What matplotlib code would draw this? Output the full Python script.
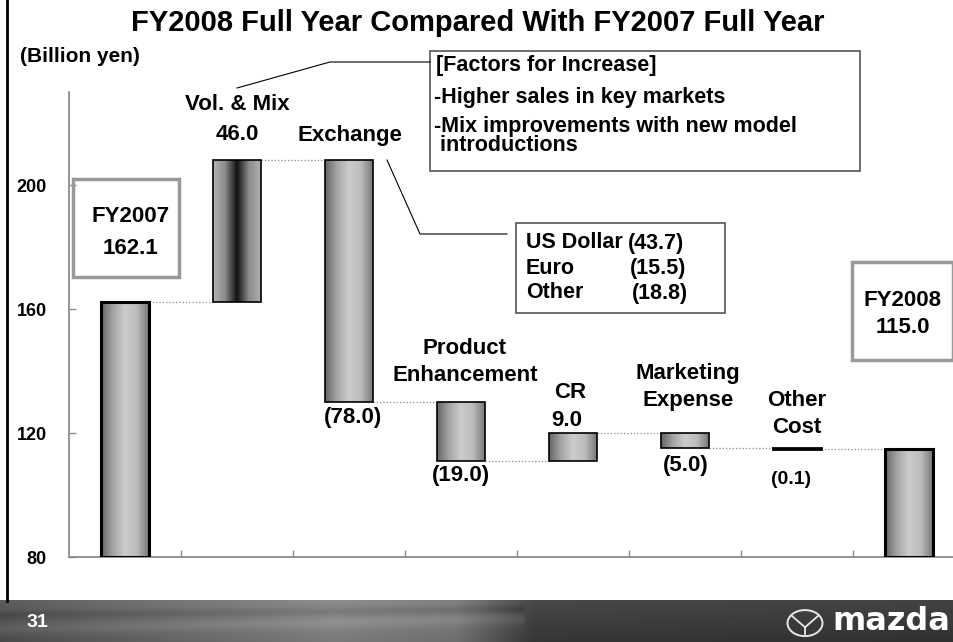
import numpy as np
import matplotlib
matplotlib.use("Agg")
import matplotlib.pyplot as plt
from matplotlib.colors import LinearSegmentedColormap
from matplotlib.patches import Rectangle, Ellipse
from matplotlib.lines import Line2D

plt.rcParams["font.family"] = ["Liberation Sans", "DejaVu Sans"]
plt.rcParams["font.weight"] = "bold"

# --- data (billion yen) ---
categories = ["FY2007", "Vol. & Mix", "Exchange", "Product\nEnhancement", "CR",
              "Marketing\nExpense", "Other\nCost", "FY2008"]
changes = [162.1, 46.0, -78.0, -19.0, 9.0, -5.0, -0.1, 115.0]
is_total = [True, False, False, False, False, False, False, True]
y_ticks = [80, 120, 160, 200]
fx_names = ["US Dollar", "Euro", "Other"]
fx_values = [-43.7, -15.5, -18.8]
factors = ["[Factors for Increase]", "-Higher sales in key markets",
           "-Mix improvements with new model\n introductions"]

W, H = 954, 642
fig = plt.figure(figsize=(W / 100, H / 100), dpi=100)


def fpos(x, y):
    """pixel position (top-left origin) -> figure fraction"""
    return x / W, 1 - y / H


def ftext(x, y, s, **kw):
    kw.setdefault("ha", "center")
    kw.setdefault("va", "center")
    kw.setdefault("fontsize", 16)
    kw.setdefault("fontweight", "bold")
    fig.text(*fpos(x, y), s, **kw)


def fbox(x0, y0, x1, y1, ec, lw):
    fig.patches.append(Rectangle(fpos(x0, y1), (x1 - x0) / W, (y1 - y0) / H,
                                 transform=fig.transFigure, fill=False, ec=ec, lw=lw))


def fline(xs, ys, **kw):
    fx = [x / W for x in xs]
    fy = [1 - y / H for y in ys]
    fig.lines.append(Line2D(fx, fy, transform=fig.transFigure, **kw))


# main axes (right edge runs past the slide edge like the original)
ax = fig.add_axes([69 / W, 85 / H, 896 / W, 465 / H])
floor = y_ticks[0]

grad_norm = LinearSegmentedColormap.from_list(
    "g1", ["#666666", "#a4a4a4", "#cccccc", "#bcbcbc", "#777777"])
grad_dark = LinearSegmentedColormap.from_list(
    "g2", ["#b4b4b4", "#8c8c8c", "#101010", "#8c8c8c", "#b0b0b0"])
ramp = np.linspace(0, 1, 256).reshape(1, -1)

x = np.arange(len(categories))
bw = 0.42
level = 0.0
for i, (c, tot) in enumerate(zip(changes, is_total)):
    if tot:
        lo, hi = floor, c
        level = c
    else:
        lo, hi = sorted([level, level + c])
        level = level + c
    lw = 2.2 if tot else 1.2
    if abs(hi - lo) < 0.5:
        lw = 2.0
    bar = ax.bar(x[i], hi - lo, bottom=lo, width=bw, facecolor="none",
                 edgecolor="black", linewidth=lw, zorder=3)[0]
    cmap = grad_dark if i == 1 else grad_norm
    im = ax.imshow(ramp, cmap=cmap, aspect="auto", zorder=2,
                   extent=(x[i] - bw / 2, x[i] + bw / 2, lo, hi))
    im.set_clip_path(bar)

# dotted connectors between bars
level = 0.0
for i in range(len(changes) - 1):
    level = changes[i] if is_total[i] else level + changes[i]
    ax.plot([x[i] + bw / 2, x[i + 1] - bw / 2], [level, level], ls=":",
            color="#888888", lw=0.9, zorder=1)

ax.set_xlim(-0.5, len(categories) - 0.5)
ax.set_ylim(floor, 230)
ax.set_yticks(y_ticks)
ax.set_yticklabels([str(v) for v in y_ticks], fontsize=13, fontweight="bold")
ax.set_xticks(x[:-1] + 0.5)
ax.set_xticklabels([])
ax.tick_params(axis="both", direction="in", length=5, color="#8c8c8c", width=1)
ax.tick_params(axis="y", pad=16)
for s in ["top", "right"]:
    ax.spines[s].set_visible(False)
for s in ["left", "bottom"]:
    ax.spines[s].set_color("#8c8c8c")
    ax.spines[s].set_linewidth(1.3)


def fmt(v):
    return f"{v:.1f}" if v >= 0 else f"({-v:.1f})"


# category + value labels
ftext(237, 104, categories[1])
ftext(237, 135, fmt(changes[1]))
ftext(350, 135, categories[2])
ftext(353, 418, fmt(changes[2]))
ftext(465, 362, categories[3], linespacing=1.35)
ftext(461, 476, fmt(changes[3]))
ftext(570, 393, categories[4])
ftext(567, 421, fmt(changes[4]))
ftext(688, 387, categories[5], linespacing=1.35)
ftext(686, 466, fmt(changes[5]))
ftext(797, 414, categories[6], linespacing=1.35)
ftext(791, 480, fmt(changes[6]), fontsize=14)

# total boxes
fbox(73, 179, 179, 277, "#999999", 2.5)
ftext(131, 217, categories[0])
ftext(131, 248, fmt(changes[0]))
fbox(852, 262, 953, 360, "#999999", 2.5)
ftext(903, 300, categories[7])
ftext(903, 328, fmt(changes[7]))

# factors box with leader
fbox(430, 51, 860, 171, "#555555", 1.2)
ftext(436, 65, factors[0], ha="left", fontsize=15.5)
ftext(434, 97, factors[1], ha="left", fontsize=15.5)
ftext(434, 136, factors[2], ha="left", fontsize=15.5, linespacing=0.9)
fline([430, 330, 237], [62, 62, 88], color="black", lw=0.8)

# exchange breakdown box with leader
fbox(516, 223, 725, 313, "#555555", 1.2)
for j, (nm, v) in enumerate(zip(fx_names, fx_values)):
    ftext(526, 243 + 25 * j, nm, ha="left", fontsize=15.5)
    ftext(628 + 2 * j, 243 + 25 * j, fmt(v), ha="left", fontsize=15.5)
fline([387, 420, 507], [160, 234, 234], color="black", lw=0.8)

# title and unit
ftext(478, 23, "FY2008 Full Year Compared With FY2007 Full Year", fontsize=21)
ftext(20, 56, "(Billion yen)", ha="left", fontsize=15)

# left slide border
fline([7, 7], [0, 601], color="black", lw=2)

# footer band
fax = fig.add_axes([0, 0, 1, 42 / H])
fax.set_axis_off()
xx = np.linspace(0, 1, 480)
yy = np.linspace(0, 1, 42).reshape(-1, 1)
base = np.interp(xx, [0, 0.1, 0.35, 0.48, 0.56, 1], [0.36, 0.42, 0.55, 0.5, 0.28, 0.26])
streak = 0.05 * np.exp(-((yy - 0.3 - 0.45 * xx) ** 2) / 0.02) * (xx < 0.55)
streak -= 0.05 * np.exp(-((yy - 0.65 - 0.25 * xx) ** 2) / 0.01) * (xx < 0.55)
band = base + streak - 0.07 * (1 - yy)
fax.imshow(band, cmap="gray", vmin=0, vmax=1, aspect="auto", origin="lower",
           extent=(0, 1, 0, 1))
fax.set_xlim(0, 1)
fax.set_ylim(0, 1)
fax.text(27 / W, 0.47, "31", color="white", fontsize=14, fontweight="bold",
         ha="left", va="center")
fax.add_patch(Ellipse((805 / W, 0.45), 35 / W, 0.62, fill=False, ec="#e8e8e8", lw=1.4))
fax.plot([792 / W, 805 / W, 818 / W], [0.62, 0.35, 0.62], color="#e8e8e8", lw=1.3)
fax.plot([805 / W, 805 / W], [0.35, 0.18], color="#e8e8e8", lw=1.3)
fax.text(891 / W, 0.48, "mazda", color="white", fontsize=23, fontweight="bold",
         ha="center", va="center", family="DejaVu Sans")

fig.savefig("out.png", dpi=100)
